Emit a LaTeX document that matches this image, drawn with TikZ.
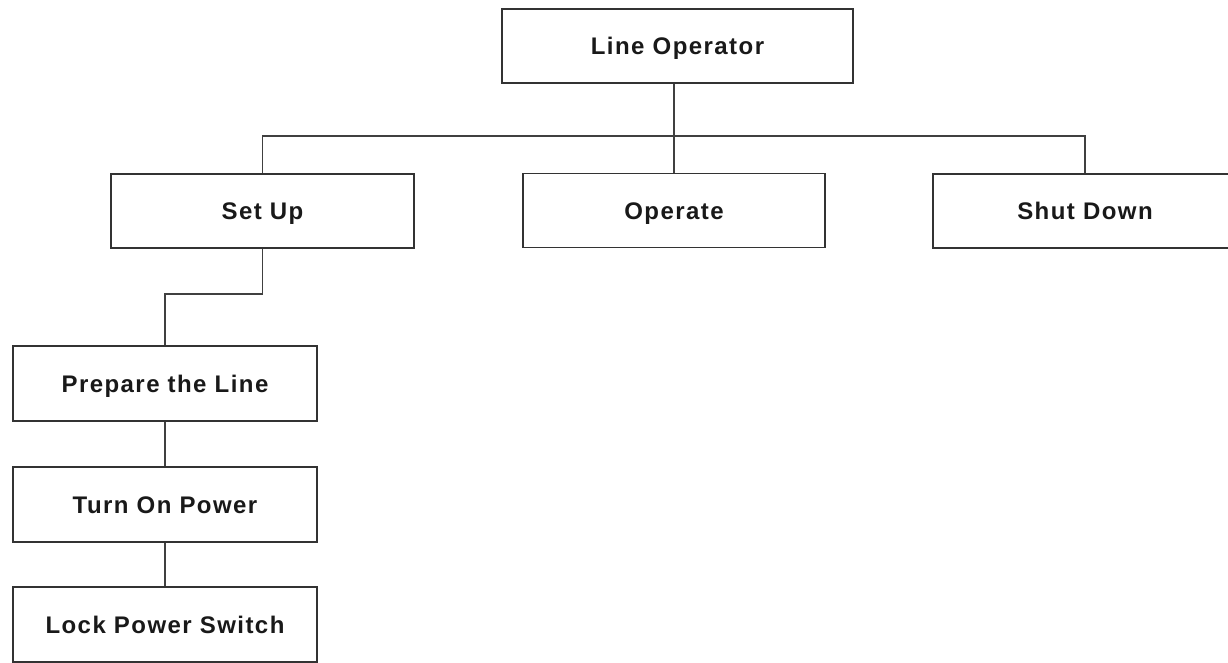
\documentclass[tikz,border=0pt]{standalone}
\usepackage{fontspec}
\setmainfont{Liberation Sans}[LetterSpace=6]
\begin{document}
\begin{tikzpicture}[x=1pt,y=-1pt,
  box/.style={draw=black!80, line width=1.3pt, rectangle, minimum width=304pt, minimum height=74pt, inner sep=0pt, text height=17.2pt, text depth=0pt, font=\fontsize{24}{28}\selectfont\bfseries, text=black!90},
  conn/.style={draw=black!75, line width=1.2pt}]
\useasboundingbox[fill=white] (0,0) rectangle (1228,663);
\node[box, minimum width=351pt] (LineOp) at (677.5,46) {Line Operator};
\node[box, minimum width=303pt] (SetUp) at (262.5,211) {Set Up};
\node[box, minimum width=302pt] (Operate) at (674,210.5) {Operate};
\node[box] (ShutDown) at (1085,211) {Shut Down};
\node[box, minimum height=75pt] (Prepare) at (165,383.5) {Prepare the Line};
\node[box, minimum height=75pt] (TurnOn) at (165,504.5) {Turn On Power};
\node[box, minimum height=75pt] (Lock) at (165,624.5) {Lock Power Switch};
\coordinate (bus) at (0,136);
\coordinate (step) at (0,294);
\draw[conn] (LineOp.south -| Operate.north) -- (Operate.north);
\draw[conn] (SetUp.north) -- (SetUp.north |- bus) -- (ShutDown.north |- bus) -- (ShutDown.north);
\draw[conn] (SetUp.south) -- (SetUp.south |- step) -| (Prepare.north);
\draw[conn] (Prepare.south) -- (TurnOn.north);
\draw[conn] (TurnOn.south) -- (Lock.north);
\end{tikzpicture}
\end{document}
